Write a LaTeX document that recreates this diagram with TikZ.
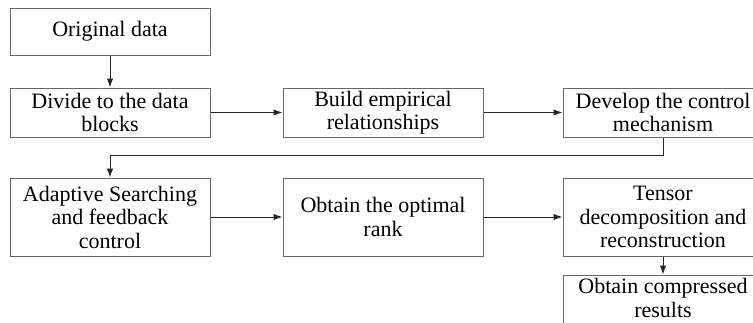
\documentclass[tikz,border=0pt]{standalone}
\usepackage{fontspec}
\setmainfont{Liberation Serif}
\usetikzlibrary{arrows.meta}
\begin{document}
\begin{tikzpicture}[x=1pt,y=-1pt,
  box/.style={draw=black!60,line width=1pt,minimum width=200pt,align=center,
    font=\rmfamily\fontsize{22}{23.5}\selectfont,inner sep=0pt,fill=white},
  conn/.style={draw=black!85,line width=1pt,-{Latex[length=9pt,width=6.5pt]}}]
\useasboundingbox (0,0) rectangle (753,322);
\clip (0,0) rectangle (753,322);
\node[box,minimum height=47pt] (b1) at (110,31.5) {Original data};
\node[box,minimum height=49pt] (b2) at (110,112.5) {Divide to the data\\blocks};
\node[box,minimum height=49pt] (b3) at (383,112.5) {Build empirical\\relationships};
\node[box,minimum height=49pt] (b4) at (663,112.5) {Develop the control\\mechanism};
\node[box,minimum height=78pt] (b5) at (110,217) {Adaptive Searching\\and feedback\\control};
\node[box,minimum height=78pt] (b6) at (383,217) {Obtain the optimal\\rank};
\node[box,minimum height=78pt] (b7) at (663,217) {Tensor\\decomposition and\\reconstruction};
\node[box,minimum height=49pt,text depth=3pt] (b8) at (663,299.5) {Obtain compressed\\results};
\coordinate (r1) at (663,155);
\coordinate (r2) at (110,155);
\draw[conn] (b1) -- (b2);
\draw[conn] (b2) -- (b3);
\draw[conn] (b3) -- (b4);
\draw[conn] (b4.south) -- (r1) -- (r2) -- (b5.north);
\draw[conn] (b5) -- (b6);
\draw[conn] (b6) -- (b7);
\draw[conn] (b7) -- (b8);
\end{tikzpicture}
\end{document}
